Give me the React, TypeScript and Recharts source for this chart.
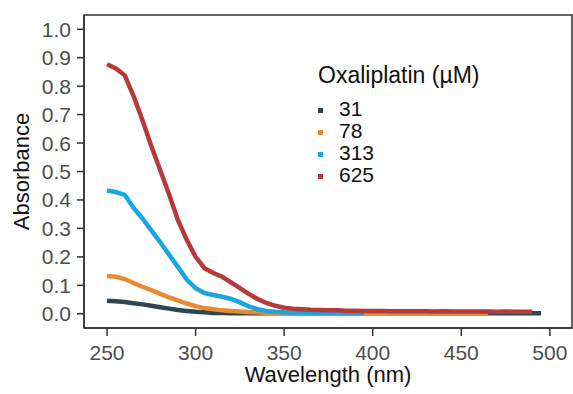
import { LineChart, Line, XAxis, YAxis, Legend, Label, ReferenceArea } from 'recharts'

const wavelengths = [
  250, 255, 260, 265, 270, 275, 280, 285, 290, 295,
  300, 305, 310, 315, 320, 325, 330, 335, 340, 345,
  350, 355, 360, 365, 370, 375, 380, 385, 390, 395,
  400, 405, 410, 415, 420, 425, 430, 435, 440, 445,
  450, 455, 460, 465, 470, 475, 480, 485, 490, 495, 500,
]

const conc31 = [
  0.046, 0.044, 0.041, 0.037, 0.033, 0.028, 0.023, 0.018, 0.013, 0.01,
  0.007, 0.005, 0.003, 0.003, 0.002, 0.002, 0.002, 0.002, 0.002, 0.002,
  0.002, 0.002, 0.002, 0.002, 0.002, 0.002, 0.002, 0.002, 0.002, 0.002,
  0.002, 0.002, 0.002, 0.002, 0.002, 0.002, 0.002, 0.002, 0.002, 0.002,
  0.002, 0.002, 0.002, 0.002, 0.002, 0.002, 0.002, 0.002, 0.002, 0.002, null,
]

const conc78 = [
  0.133, 0.13, 0.122, 0.108, 0.095, 0.083, 0.07, 0.058, 0.047, 0.036,
  0.027, 0.02, 0.016, 0.012, 0.01, 0.008, 0.006, 0.005, 0.004, 0.004,
  0.003, 0.003, 0.003, 0.003, 0.003, 0.003, 0.003, 0.003, 0.003, 0.003,
  0.003, 0.003, 0.003, 0.003, 0.003, 0.003, 0.003, 0.003, 0.003, 0.003,
  0.003, 0.003, 0.003, 0.003, null, null, null, null, null, null, null,
]

const conc313 = [
  0.433, 0.428, 0.418, 0.372, 0.335, 0.293, 0.252, 0.208, 0.165, 0.12,
  0.09, 0.073, 0.066, 0.06, 0.052, 0.04, 0.026, 0.016, 0.01, 0.007,
  0.005, 0.004, 0.004, 0.003, 0.003, 0.003, 0.003, 0.002, 0.003, 0.002,
  null, null, null, null, null, null, null, null, null, null,
  null, null, null, null, null, null, null, null, null, null, null,
]

const conc625 = [
  0.877, 0.862, 0.838, 0.765, 0.68, 0.59, 0.505, 0.42, 0.33, 0.26,
  0.2, 0.16, 0.143, 0.13, 0.11, 0.09, 0.07, 0.052, 0.038, 0.028,
  0.021, 0.018, 0.016, 0.014, 0.013, 0.012, 0.012, 0.011, 0.011, 0.01,
  0.01, 0.01, 0.009, 0.009, 0.009, 0.009, 0.009, 0.008, 0.009, 0.008,
  0.008, 0.008, 0.008, 0.008, 0.007, 0.008, 0.007, 0.007, 0.007, null, null,
]

const xTicks = [250, 300, 350, 400, 450, 500]
const yTicks = [0, 0.1, 0.2, 0.3, 0.4, 0.5, 0.6, 0.7, 0.8, 0.9, 1.0]

const series = [
  { key: 'c31', name: '31', color: '#2c474f' },
  { key: 'c78', name: '78', color: '#e58b32' },
  { key: 'c313', name: '313', color: '#1aa6df' },
  { key: 'c625', name: '625', color: '#b53a3c' },
]

const data = wavelengths.map((w, i) => ({
  wavelength: w,
  c31: conc31[i],
  c78: conc78[i],
  c313: conc313[i],
  c625: conc625[i],
}))

const font = '"Liberation Sans", Arial, sans-serif'

function LegendBox() {
  return (
    <div style={{ fontFamily: font, color: '#111', fontSize: 21, lineHeight: '22px' }}>
      <div style={{ marginBottom: 11, fontSize: 23, lineHeight: '24px' }}>Oxaliplatin (µM)</div>
      {series.map(s => (
        <div key={s.key} style={{ display: 'flex', alignItems: 'center', height: 22 }}>
          <span style={{ width: 5, height: 5, background: s.color, marginLeft: 0, marginRight: 16, marginTop: 2 }} />
          <span>{s.name}</span>
        </div>
      ))}
    </div>
  )
}

export default function App() {
  return (
    <div style={{ position: 'absolute', left: 0, top: 0, background: '#fff' }}>
      <LineChart width={573} height={394} data={data} margin={{ top: 15, right: 1, left: 0, bottom: 0 }}>
        <XAxis
          dataKey="wavelength"
          type="number"
          domain={[237, 512.5]}
          ticks={xTicks}
          interval={0}
          allowDataOverflow
          height={66}
          tickSize={8}
          tickMargin={9}
          stroke="#333"
          strokeWidth={1.5}
          tick={{ fill: '#4d4d4d', fontSize: 21, fontFamily: font }}
        >
          <Label value="Wavelength (nm)" position="center" dy={13} style={{ fill: '#111', fontSize: 22, fontFamily: font }} />
        </XAxis>
        <YAxis
          type="number"
          domain={[-0.05, 1.05]}
          ticks={yTicks}
          interval={0}
          allowDataOverflow
          width={84}
          tickSize={7}
          tickMargin={6}
          stroke="#333"
          strokeWidth={1.5}
          tickFormatter={(v: number) => v.toFixed(1)}
          tick={{ fill: '#4d4d4d', fontSize: 21, fontFamily: font }}
        >
          <Label value="Absorbance" angle={-90} position="center" dx={-21} style={{ fill: '#111', fontSize: 22, fontFamily: font, textAnchor: 'middle' }} />
        </YAxis>
        <ReferenceArea x1={237} x2={512.5} y1={-0.05} y2={1.05} fill="none" stroke="#333" strokeWidth={1.5} />
        {series.map(s => (
          <Line
            key={s.key}
            dataKey={s.key}
            name={s.name}
            stroke={s.color}
            strokeWidth={4.5}
            dot={false}
            type="linear"
            isAnimationActive={false}
          />
        ))}
        <Legend
          layout="vertical"
          align="center"
          verticalAlign="middle"
          content={() => <LegendBox />}
          wrapperStyle={{ position: 'absolute', left: 318, top: 63, width: 'auto', height: 'auto' }}
        />
      </LineChart>
    </div>
  )
}
